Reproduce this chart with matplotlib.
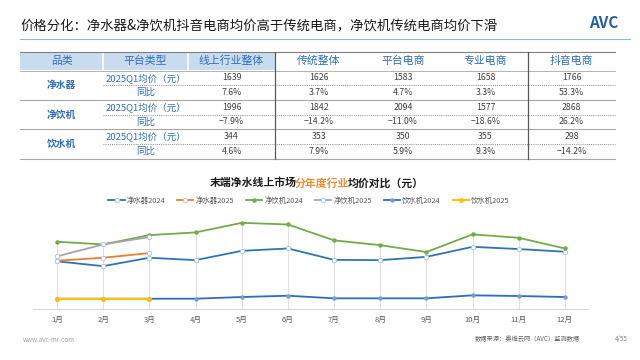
import matplotlib
matplotlib.use('Agg')
import matplotlib.pyplot as plt
from matplotlib.patches import Rectangle

plt.rcParams['font.family'] = ['Noto Sans CJK SC', 'DejaVu Sans']

# table data
col_heads = ['品类', '平台类型', '线上行业整体', '传统整体', '平台电商', '专业电商', '抖音电商']
categories = ['净水器', '净饮机', '饮水机']
row_types = ['2025Q1均价（元）', '同比']
price_rows = [['1639', '1626', '1583', '1658', '1766'],
              ['1996', '1842', '2094', '1577', '2868'],
              ['344', '353', '350', '355', '298']]
yoy_rows = [['7.6%', '3.7%', '4.7%', '3.3%', '53.3%'],
            ['−7.9%', '−14.2%', '−11.0%', '−18.6%', '26.2%'],
            ['4.6%', '7.9%', '5.9%', '9.3%', '−14.2%']]

# line chart data
months = ['1月', '2月', '3月', '4月', '5月', '6月', '7月', '8月', '9月', '10月', '11月', '12月']
jsq_2024 = [1590, 1430, 1710, 1630, 1940, 2020, 1640, 1630, 1740, 2075, 2000, 1910]
jsq_2025 = [1610, 1710, 1865]
jyj_2024 = [2243, 2155, 2465, 2555, 2875, 2820, 2290, 2130, 1900, 2490, 2375, 2020]
jyj_2025 = [1755, 2155, 2400]
ysj_2024 = [343, 343, 343, 343, 400, 443, 356, 356, 356, 456, 433, 400]
ysj_2025 = [343, 343, 343]

W, H = 640, 360
fig = plt.figure(figsize=(6.4, 3.6), dpi=100)

# overlay in pixel coordinates for title and table
ov = fig.add_axes([0, 0, 1, 1])
ov.set_xlim(0, W)
ov.set_ylim(H, 0)
ov.axis('off')

ov.text(20, 25, '价格分化：净水器&净饮机抖音电商均价高于传统电商，净饮机传统电商均价下滑',
        fontsize=9.6, ha='left', va='center', color='#1a1a1a')
ov.plot([20, 630], [39, 39], color='#8dbbe0', lw=0.8)
ov.text(604, 23, 'AVC', fontsize=11, fontweight='bold', color='#1f5fa8',
        ha='center', va='center', style='italic')

blue = '#2f6eba'
# header
col_x = [20, 103, 188, 275, 363, 443, 528, 615]
ov.add_patch(Rectangle((20, 52), 255, 18, color='#c9dcef', lw=0))
for xs in [103, 188]:
    ov.plot([xs, xs], [52, 70], color='white', lw=1.2)
for i, head in enumerate(col_heads):
    cx = (col_x[i] + col_x[i + 1]) / 2
    ov.text(cx, 61, head, fontsize=7.8, ha='center', va='center', color=blue)
ov.plot([20, 615], [52, 52], color='#7f7f7f', lw=0.8)
ov.plot([20, 615], [70.5, 70.5], color='#a6a6a6', lw=0.6)

row_h = 14.7
top = 70.5
for k, cat in enumerate(categories):
    y0 = top + k * 2 * row_h
    ov.text(61, y0 + row_h, cat, fontsize=7, ha='center', va='center',
            color=blue, fontweight='bold')
    for r, (rt, vals) in enumerate(zip(row_types, [price_rows[k], yoy_rows[k]])):
        yc = y0 + row_h * (r + 0.5)
        ov.text(146, yc, rt, fontsize=6.8, ha='center', va='center', color=blue)
        for j, v in enumerate(vals):
            cx = (col_x[j + 2] + col_x[j + 3]) / 2
            ov.text(cx, yc, v, fontsize=6.3, ha='center', va='center', color='#404040')
    ov.plot([103, 615], [y0 + row_h, y0 + row_h], color='#8c8c8c', lw=0.7, ls=(0, (1, 1.2)))
    ov.plot([20, 615], [y0 + 2 * row_h, y0 + 2 * row_h], color='#a6a6a6', lw=0.8)
for xs in [275, 528]:
    ov.plot([xs, xs], [52, top + 6 * row_h], color='#595959', lw=0.9)

# chart title
ov.text(210, 183, '末端净水线上市场', fontsize=7.8, fontweight='bold', ha='left', va='center', color='#1a1a1a')
ov.text(210 + 8 * 10.6, 183, '分年度行业', fontsize=7.8, fontweight='bold', ha='left', va='center', color='#f08a2c')
ov.text(210 + 13 * 10.6, 183, '均价对比（元）', fontsize=7.8, fontweight='bold', ha='left', va='center', color='#1a1a1a')

# footer
ov.text(23, 340, 'www.avc-mr.com', fontsize=4.5, color='#a0a0a0', ha='left', va='center')
ov.text(475, 339, '数据来源：奥维云网（AVC）监测数据', fontsize=4.5, color='#606060', ha='left', va='center')
ov.text(621, 339, '4/55', fontsize=4.5, color='#808080', ha='center', va='center')

# line chart
ax = fig.add_axes([33 / W, 1 - 309 / H, (588 - 33) / W, (309 - 205) / H])
ax.patch.set_alpha(0)
x = list(range(len(months)))
x3 = x[:3]

tops = []
for i in x:
    vals = [jsq_2024[i], jyj_2024[i], ysj_2024[i]]
    if i < 3:
        vals += [jsq_2025[i], jyj_2025[i], ysj_2025[i]]
    tops.append(max(vals))
ax.vlines(x, 0, tops, color='#dcdcdc', lw=0.6, zorder=0)

ax.plot(x, jsq_2024, color='#2e75b6', lw=1.3, marker='o', ms=3.2, mfc='white',
        mec='#9dc3e6', mew=0.6, label='净水器2024', zorder=3)
ax.plot(x3, jsq_2025, color='#ed7d31', lw=1.3, marker='o', ms=3.2, mfc='white',
        mec='#9dc3e6', mew=0.6, label='净水器2025', zorder=3)
ax.plot(x, jyj_2024, color='#70ad47', lw=1.3, marker='o', ms=2.2, mfc='#70ad47',
        mec='#70ad47', label='净饮机2024', zorder=3)
ax.plot(x3, jyj_2025, color='#a5a5a5', lw=1.3, marker='o', ms=3.2, mfc='white',
        mec='#9dc3e6', mew=0.6, label='净饮机2025', zorder=3)
ax.plot(x, ysj_2024, color='#2e6bc4', lw=1.3, marker='o', ms=2.2, mfc='#6f9fd8',
        mec='#6f9fd8', label='饮水机2024', zorder=3)
ax.plot(x3, ysj_2025, color='#ffc000', lw=1.5, marker='o', ms=2.4, mfc='#ffc000',
        mec='#ffc000', label='饮水机2025', zorder=4)

ax.set_xlim(-0.52, 11.5)
ax.set_ylim(0, 3470)
ax.set_yticks([])
ax.set_xticks(x)
ax.set_xticklabels(months, fontsize=5.5, color='#595959')
ax.tick_params(axis='x', length=0, pad=5)
for s in ['top', 'right', 'left']:
    ax.spines[s].set_visible(False)
ax.spines['bottom'].set_color('#d9d9d9')
ax.spines['bottom'].set_linewidth(0.8)

leg = ax.legend(loc='center', bbox_to_anchor=(309 / W, 1 - 201 / H), bbox_transform=fig.transFigure,
                ncol=6, fontsize=5.3, frameon=False, handlelength=2.2, columnspacing=1.6,
                handletextpad=0.3, labelcolor='#595959')

fig.savefig('out.png', dpi=100)
